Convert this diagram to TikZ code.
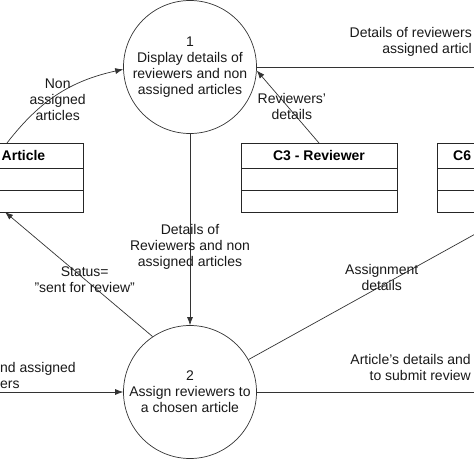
\documentclass[tikz,border=0pt]{standalone}
\usepackage{fontspec}
\setmainfont{Liberation Sans}
\usetikzlibrary{arrows.meta, positioning}

\begin{document}
\begin{tikzpicture}[x=1pt, y=-1pt, font=\fontsize{14}{16}\selectfont]
    \tikzstyle{process}   = [circle, minimum size=133pt, inner sep=0pt, draw=black!80, line width=0.7pt, align=center, text=black!90]
    \tikzstyle{classhead} = [rectangle, minimum width=156pt, minimum height=25pt, outer sep=0pt, draw=black!85, line width=0.7pt, font=\fontsize{14}{16}\selectfont\bfseries]
    \tikzstyle{classpart} = [rectangle, minimum width=156pt, minimum height=22pt, outer sep=0pt, draw=black!85, line width=0.7pt]
    \tikzstyle{classname} = [inner sep=0pt, font=\fontsize{14}{16}\selectfont\bfseries]
    \tikzstyle{flowtext}  = [align=center, inner sep=0pt, text=black!90]
    \tikzstyle{arrow}     = [line width=0.7pt, draw=black!80, ->, >={Latex[length=8pt, width=6pt]}]
    \tikzstyle{plainline} = [line width=0.7pt, draw=black!80]

    \useasboundingbox (0,0) rectangle (474,474);
    \clip (0,0) rectangle (474,474);

    % Processes
    \node [process] (display) at (190,67)  {1\\Display details of\\reviewers and non\\assigned articles};
    \node [process] (assign)  at (190,392) {2\\Assign reviewers to\\a chosen article};

    % Classes
    \node [classhead] (arthead) at (5,155.5) {};
    \node [classpart, below=0pt of arthead] (artattr) {};
    \node [classpart, below=0pt of artattr] (artops)  {};
    \node [classname, anchor=west] (artname) at (1.5,155.5) {Article};

    \node [classhead] (revhead) at (319,155.5) {C3 - Reviewer};
    \node [classpart, below=0pt of revhead] (revattr) {};
    \node [classpart, below=0pt of revattr] (revops)  {};

    \node [classhead] (subhead) at (515,155.5) {};
    \node [classpart, below=0pt of subhead] (subattr) {};
    \node [classpart, below=0pt of subattr] (subops)  {};
    \node [classname, anchor=west] (subname) at (453,155.5) {C6};

    % Free ends
    \coordinate (outdisplay) at (474,67);
    \coordinate (inassign)   at (0,392);
    \coordinate (outassign)  at (474,392);

    % Data flows
    \draw [arrow] ([xshift=2pt]arthead.north) to [bend left=20] node [flowtext, midway, yshift=-5pt] (nonassigned) {Non\\assigned\\articles} (display.182);
    \draw [plainline] (display.east) -- (outdisplay);
    \node [flowtext, anchor=east, align=right] (detailsright) at (472,41.5) {Details of reviewers\\assigned articl};
    \draw [arrow] (revhead.north) -- (display.-3) node [flowtext, pos=0.5, xshift=4pt] (revdetails) {Reviewers'\\details};
    \draw [arrow] (display.south) -- (assign.north) node [flowtext, pos=0.59] (detailsdown) {Details of\\Reviewers and non\\assigned articles};
    \draw [arrow] (assign.124) -- (artops.south) node [flowtext, pos=0.46] (status) {Status=\\"sent for review"};
    \draw [arrow] (inassign) -- (assign.west);
    \node [flowtext, anchor=west, align=left] (assignedin) at (0,375.5) {nd assigned\\ers};
    \draw [arrow] (assign.29) -- (subops.south) node [flowtext, pos=0.5, yshift=8pt] (assignment) {Assignment\\details};
    \draw [plainline] (assign.east) -- (outassign);
    \node [flowtext, anchor=east, align=right] (submit) at (471,367.5) {Article's details and\\to submit review};

\end{tikzpicture}
\end{document}
